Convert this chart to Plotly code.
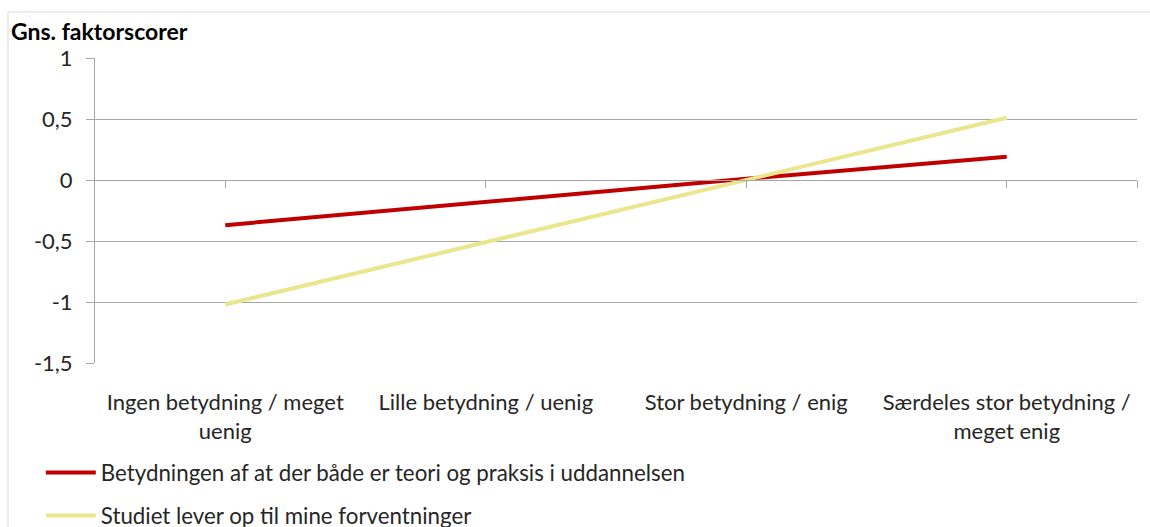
import plotly.graph_objects as go

# ---------------- data
categories = [
    "Ingen betydning / meget<br>uenig",
    "Lille betydning / uenig",
    "Stor betydning / enig",
    "Særdeles stor betydning /<br>meget enig",
]
teori_praksis = [-0.37, -0.18, 0.01, 0.19]
forventninger = [-1.02, -0.51, 0.0, 0.51]
series_names = [
    "Betydningen af at der både er teori og praksis i uddannelsen",
    "Studiet lever op til mine forventninger",
]
y_ticks = [1, 0.5, 0, -0.5, -1, -1.5]
y_ticktext = ["1", "0,5", "0", "-0,5", "-1", "-1,5"]

FONT = "Lato, 'Open Sans', sans-serif"
GRID = "#a6a6a6"
TXT = "#262626"

x_pos = list(range(len(categories)))

fig = go.Figure()
fig.add_trace(go.Scatter(
    x=x_pos, y=teori_praksis, mode="lines", name=series_names[0],
    line=dict(color="#c00000", width=4), legendgroup="a",
))
fig.add_trace(go.Scatter(
    x=x_pos, y=forventninger, mode="lines", name=series_names[1],
    line=dict(color="#eae68e", width=4), legendgroup="b",
))
# invisible helper so xaxis2 is drawn
fig.add_trace(go.Scatter(
    x=[None], y=[None], xaxis="x2", showlegend=False, hoverinfo="skip",
))

fig.update_layout(
    width=1150, height=527,
    margin=dict(l=95, r=13, t=58, b=164, autoexpand=False),
    paper_bgcolor="white", plot_bgcolor="white",
    font=dict(family=FONT, size=22, color=TXT),
    showlegend=True,
    legend=dict(
        orientation="v", x=-0.052, y=-0.29, xanchor="left", yanchor="top",
        font=dict(size=22.3, color=TXT), tracegroupgap=11, itemwidth=50,
    ),
    xaxis=dict(
        range=[-0.5, 3.5], tickvals=x_pos, ticktext=categories,
        showgrid=False, zeroline=False, showline=False,
        ticks="", ticklabelstandoff=24,
        tickfont=dict(size=22, color=TXT), fixedrange=True,
    ),
    # category tick marks sit on the zero line
    xaxis2=dict(
        range=[-0.5, 3.5], overlaying="x", anchor="free", position=0.6,
        side="bottom", tickvals=x_pos + [3.5], showticklabels=False,
        showgrid=False, zeroline=False, showline=True, linecolor=GRID,
        ticks="outside", ticklen=7, tickcolor=GRID, fixedrange=True,
    ),
    yaxis=dict(
        range=[-1.5, 1], tickvals=y_ticks, ticktext=y_ticktext,
        showgrid=True, gridcolor=GRID, gridwidth=1, zeroline=False,
        showline=True, linecolor=GRID, ticks="outside", ticklen=8,
        tickcolor=GRID, ticklabelstandoff=9,
        tickfont=dict(size=22, color=TXT), fixedrange=True,
    ),
    annotations=[dict(
        text="<b>Gns. faktorscorer</b>", xref="paper", yref="paper",
        x=-0.083, y=1.035, xanchor="left", yanchor="bottom",
        showarrow=False, font=dict(size=23, color="#000000"),
    )],
    shapes=[
        dict(type="line", xref="paper", yref="paper", x0=-0.0835, x1=1.02,
             y0=1.151, y1=1.151, line=dict(color="#d9d9d9", width=1)),
        dict(type="line", xref="paper", yref="paper", x0=-0.0835, x1=-0.0835,
             y0=1.151, y1=-0.6, line=dict(color="#d9d9d9", width=1)),
    ],
)

fig.write_html(
    "out.html",
    config={"displayModeBar": False},
    post_script="document.body.style.margin='0';",
)
